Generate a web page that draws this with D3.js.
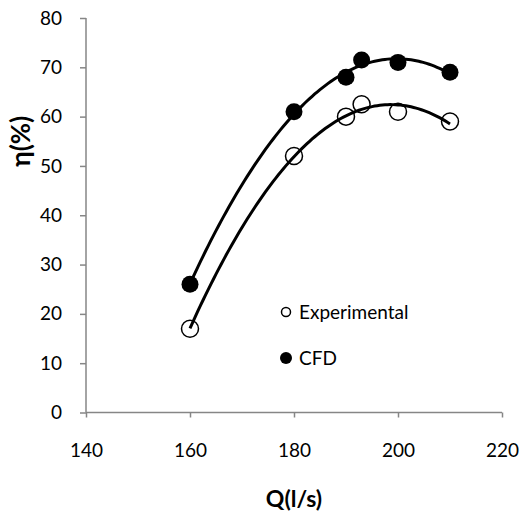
<!DOCTYPE html>
<html>
<head>
<meta charset="utf-8">
<script src="https://cdn.jsdelivr.net/npm/d3@7"></script>
<style>
  body { margin: 0; background: #fff; }
  text { font-family: Lato, "Open Sans", sans-serif; }
</style>
</head>
<body>
<div id="chart"></div>
<script>
const flow = [160, 180, 190, 193, 200, 210];
const experimental = [17, 52, 60, 62.5, 61, 59];
const cfd = [26, 61, 68, 71.5, 71, 69];
const xTicks = [140, 160, 180, 200, 220];
const yTicks = [0, 10, 20, 30, 40, 50, 60, 70, 80];

const width = 520, height = 517;
const margin = { top: 18, right: 18, bottom: 104.5, left: 86 };
const innerW = width - margin.left - margin.right;
const innerH = height - margin.top - margin.bottom;

const svg = d3.select("#chart").append("svg")
  .attr("width", width)
  .attr("height", height);

const g = svg.append("g")
  .attr("transform", `translate(${margin.left},${margin.top})`);

const x = d3.scaleLinear().domain([140, 220]).range([0, innerW]);
const y = d3.scaleLinear().domain([0, 80]).range([innerH, 0]);

// least squares 2nd order polynomial (like the excel trendline)
function polyFit(xs, ys) {
  const s = [0, 0, 0, 0, 0], t = [0, 0, 0];
  xs.forEach((xv, i) => {
    for (let k = 0; k < 5; k++) s[k] += Math.pow(xv, k);
    for (let k = 0; k < 3; k++) t[k] += Math.pow(xv, k) * ys[i];
  });
  const m = [
    [s[0], s[1], s[2], t[0]],
    [s[1], s[2], s[3], t[1]],
    [s[2], s[3], s[4], t[2]]
  ];
  for (let i = 0; i < 3; i++) {
    for (let j = i + 1; j < 3; j++) {
      const f = m[j][i] / m[i][i];
      for (let k = i; k < 4; k++) m[j][k] -= f * m[i][k];
    }
  }
  const c = [0, 0, 0];
  for (let i = 2; i >= 0; i--) {
    let v = m[i][3];
    for (let k = i + 1; k < 3; k++) v -= m[i][k] * c[k];
    c[i] = v / m[i][i];
  }
  return xv => c[0] + c[1] * xv + c[2] * xv * xv;
}

const axisColor = "#868686";

// axes
const xAxis = g.append("g")
  .attr("transform", `translate(0,${innerH})`)
  .call(d3.axisBottom(x).tickValues(xTicks).tickSize(5).tickPadding(26));
const yAxis = g.append("g")
  .call(d3.axisLeft(y).tickValues(yTicks).tickSize(6).tickPadding(18));

[xAxis, yAxis].forEach(a => {
  a.select(".domain").attr("stroke", axisColor).attr("stroke-width", 1.5);
  a.selectAll(".tick line").attr("stroke", axisColor).attr("stroke-width", 1.5);
  a.selectAll(".tick text")
    .attr("fill", "#000")
    .style("font-size", "19px")
    .style("font-family", "Lato, 'Open Sans', sans-serif");
});
xAxis.select(".domain").attr("d", `M0,0H${innerW}`);
yAxis.select(".domain").attr("d", `M0,0V${innerH}`);

// trendlines
const line = d3.line().x(d => x(d[0])).y(d => y(d[1]));
const samples = d3.range(160, 210.01, 0.5);
[experimental, cfd].forEach(vals => {
  const f = polyFit(flow, vals);
  g.append("path")
    .datum(samples.map(v => [v, f(v)]))
    .attr("fill", "none")
    .attr("stroke", "#000")
    .attr("stroke-width", 3)
    .attr("d", line);
});

// markers
g.selectAll(".exp")
  .data(flow.map((q, i) => [q, experimental[i]]))
  .enter().append("circle")
  .attr("cx", d => x(d[0]))
  .attr("cy", d => y(d[1]))
  .attr("r", 8.5)
  .attr("fill", "none")
  .attr("stroke", "#000")
  .attr("stroke-width", 1.5);

g.selectAll(".cfd")
  .data(flow.map((q, i) => [q, cfd[i]]))
  .enter().append("circle")
  .attr("cx", d => x(d[0]))
  .attr("cy", d => y(d[1]))
  .attr("r", 8.5)
  .attr("fill", "#000");

// legend
const legend = svg.append("g").attr("transform", "translate(286,312)");
legend.append("circle").attr("r", 4.5).attr("fill", "#fff")
  .attr("stroke", "#000").attr("stroke-width", 1.5);
legend.append("text").attr("x", 13).attr("y", 7)
  .style("font-size", "19px").text("Experimental");
legend.append("circle").attr("cy", 46).attr("r", 6).attr("fill", "#000");
legend.append("text").attr("x", 13).attr("y", 53)
  .style("font-size", "19px").text("CFD");

// axis titles
svg.append("text")
  .attr("x", margin.left + x(180))
  .attr("y", 507)
  .attr("text-anchor", "middle")
  .style("font-size", "23px")
  .style("font-weight", "bold")
  .text("Q(l/s)");

svg.append("text")
  .attr("transform", `translate(30,${margin.top + y(55)}) rotate(-90)`)
  .attr("text-anchor", "middle")
  .style("font-size", "26px")
  .style("font-weight", "bold")
  .text("η(%)");
</script>
</body>
</html>
